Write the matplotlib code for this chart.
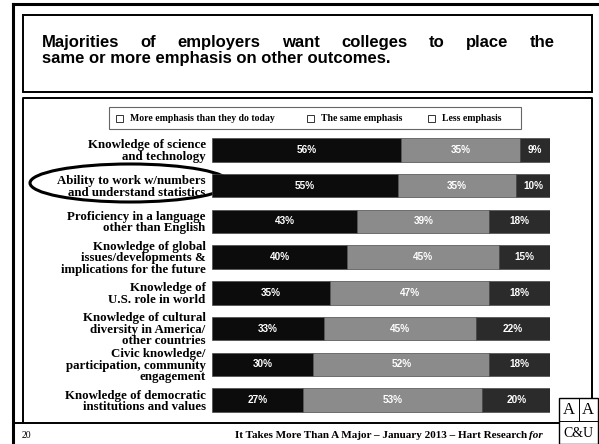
import matplotlib.pyplot as plt
from matplotlib.patches import Rectangle, Ellipse

# data
categories = [
    "Knowledge of science\nand technology",
    "Ability to work w/numbers\nand understand statistics",
    "Proficiency in a language\nother than English",
    "Knowledge of global\nissues/developments &\nimplications for the future",
    "Knowledge of\nU.S. role in world",
    "Knowledge of cultural\ndiversity in America/\nother countries",
    "Civic knowledge/\nparticipation, community\nengagement",
    "Knowledge of democratic\ninstitutions and values",
]
more_emphasis = [56, 55, 43, 40, 35, 33, 30, 27]
same_emphasis = [35, 35, 39, 45, 47, 45, 52, 53]
less_emphasis = [9, 10, 18, 15, 18, 22, 18, 20]
series_names = ["More emphasis than they do today", "The same emphasis", "Less emphasis"]
series_colors = ["#0c0c0c", "#8b8b8b", "#2b2b2b"]

title_lines = ["Majorities of employers want colleges to place the",
               "same or more emphasis on other outcomes."]
footer = "It Takes More Than A Major \u2013 January 2013 \u2013 Hart Research"
page_no = "20"

W, H = 599, 444
fig = plt.figure(figsize=(W / 100, H / 100), dpi=100)

# background axes in pixel coordinates for the slide frame
bg = fig.add_axes([0, 0, 1, 1])
bg.set_xlim(0, W)
bg.set_ylim(H, 0)
bg.axis("off")

# outer frame
bg.plot([13, 13], [H, 4], color="black", lw=2.2)
bg.plot([13, W], [4, 4], color="black", lw=2.2)
# title box
bg.add_patch(Rectangle((23, 15), 569, 77, fill=False, ec="black", lw=1.4))
# chart box
bg.plot([23, 23, 592, 592], [423, 98, 98, 398], color="black", lw=1.4)
bg.plot([13, 559], [423, 423], color="black", lw=1.4)

# title, first line justified
serif = "Liberation Serif"
sans = "Liberation Sans"
words = title_lines[0].split()
objs = [bg.text(0, 47, w, fontsize=12, fontweight="bold", family=sans,
                va="baseline", ha="left") for w in words]
fig.canvas.draw()
r = fig.canvas.get_renderer()
widths = [o.get_window_extent(r).width for o in objs]
gap = (555 - 42 - sum(widths)) / (len(words) - 1)
x = 42
for o, wd in zip(objs, widths):
    o.set_x(x)
    x += wd + gap
bg.text(42, 63, title_lines[1], fontsize=12, fontweight="bold", family=sans,
        va="baseline", ha="left")

# legend
bg.add_patch(Rectangle((109, 107), 412, 22, fill=False, ec="#666666", lw=0.8))
for bx, name in zip([116, 307, 428], series_names):
    bg.add_patch(Rectangle((bx, 114.5), 7, 7, fill=False, ec="#333333", lw=0.7))
    bg.text(bx + 14, 118, name, fontsize=7, fontweight="bold", family=serif,
            va="center", ha="left")

# highlight ellipse
bg.add_patch(Ellipse((130, 183), 200, 38, fill=False, ec="black", lw=2.2))

# footer
bg.text(22, 435, page_no, fontsize=7, family=serif, va="center", ha="left")
bg.text(527, 435, footer, fontsize=8.0, fontweight="bold", family=serif,
        va="center", ha="right")
bg.text(529, 435, "for", fontsize=8.0, fontweight="bold", style="italic",
        family=serif, va="center", ha="left")

# logo
bg.add_patch(Rectangle((559, 398), 39, 46, fill=False, ec="black", lw=1.0))
bg.plot([578.5, 578.5], [398, 421], color="black", lw=0.7)
bg.plot([559, 598], [421, 421], color="black", lw=0.7)
bg.text(569, 410, "A", fontsize=12, family=serif, ha="center", va="center")
bg.text(588, 410, "A", fontsize=12, family=serif, ha="center", va="center")
bg.text(578.5, 433, "C&U", fontsize=10, family=serif, ha="center", va="center")

# bar chart axes
top, bottom = 132.1, 417.9
ax = fig.add_axes([212 / W, (H - bottom) / H, 338 / W, (bottom - top) / H])
ax.patch.set_alpha(0)
rows = list(range(len(categories)))
left = [0] * len(rows)
for vals, col in zip([more_emphasis, same_emphasis, less_emphasis], series_colors):
    bars = ax.barh(rows, vals, left=left, height=0.66, color=col,
                   edgecolor="#4a4a4a", linewidth=0.5)
    ax.bar_label(bars, labels=[f"{v}%" for v in vals], label_type="center",
                 color="white", fontsize=7.2, fontweight="bold", family=sans)
    left = [a + b for a, b in zip(left, vals)]

ax.set_xlim(0, 100)
ax.set_ylim(len(rows) - 0.5, -0.5)
ax.set_xticks([])
ax.set_yticks(rows)
ax.set_yticklabels(categories, fontsize=9.3, fontweight="bold", family=serif,
                   linespacing=0.95)
ax.tick_params(axis="y", length=0, pad=4.5)
for s in ax.spines.values():
    s.set_visible(False)

plt.savefig("out.png", dpi=100)
